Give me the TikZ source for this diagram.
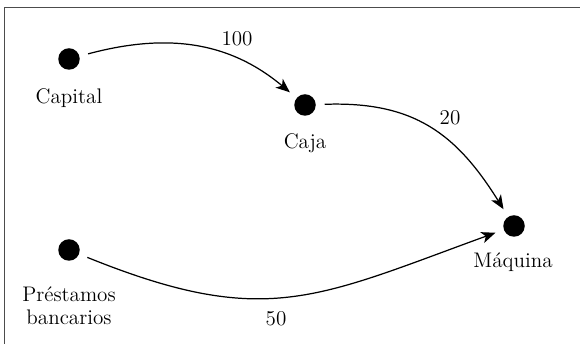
\documentclass[tikz,border=0pt]{standalone}
\usetikzlibrary{arrows.meta}
\tikzset{
  punto/.style={circle, fill=black, inner sep=0pt, minimum size=0.43cm, outer sep=0.18cm},
  etiqueta/.style={font=\fontsize{12}{13}\selectfont, align=center},
  flujo/.style={line width=0.7pt, -{Stealth[length=8pt, width=6.5pt, inset=2.2pt]}}
}
\begin{document}
\begin{tikzpicture}
    % marco
    \path[use as bounding box, clip] (0, 0) rectangle (11.6, 6.88);
    \draw[line width=0.8pt, black!70] (0.09, -1) rectangle (12, 6.73);

    % puntos
    \node[punto] (capital) at (1.38, 5.70) {};
    \node[punto] (caja) at (6.10, 4.78) {};
    \node[punto] (maquina) at (10.28, 2.36) {};
    \node[punto] (prestamos) at (1.38, 1.88) {};

    % nombres
    \node[etiqueta] (capitalname) at (1.38, 4.92) {Capital};
    \node[etiqueta] (cajaname) at (6.10, 4.02) {Caja};
    \node[etiqueta] (maquinaname) at (10.26, 1.64) {Máquina};
    \node[etiqueta] (prestamosname) at (1.38, 0.76) {Préstamos\\bancarios};

    % flujos
    \draw[flujo] (capital) to[out=15, in=140] (caja);
    \draw[flujo] (caja) to[out=2, in=122, looseness=1.1] (maquina);
    \draw[flujo] (prestamos) to[out=-22, in=200, looseness=1.2] (maquina);

    % montos
    \node[etiqueta] (cien) at (4.74, 6.10) {100};
    \node[etiqueta] (veinte) at (9.00, 4.52) {20};
    \node[etiqueta] (cincuenta) at (5.52, 0.50) {50};
\end{tikzpicture}
\end{document}
